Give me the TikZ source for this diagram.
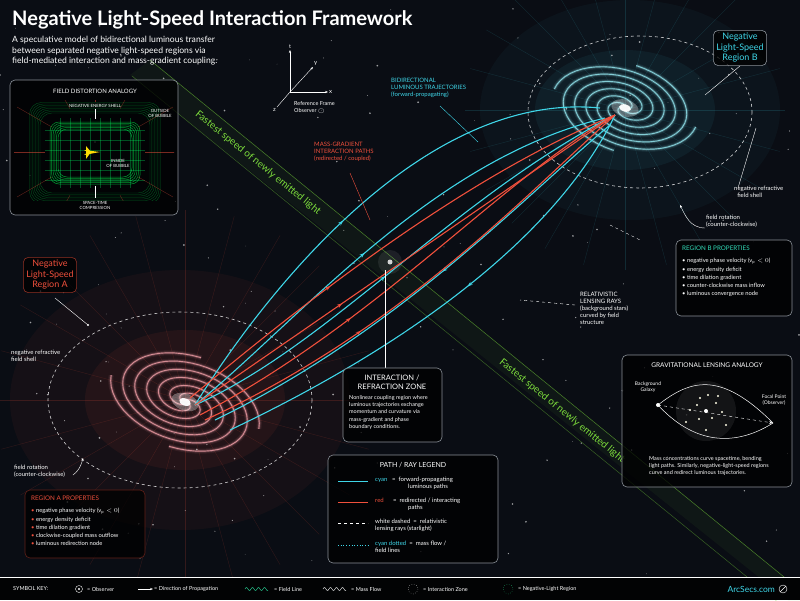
\documentclass[tikz,border=0pt]{standalone}
\usepackage{fontspec}
\setmainfont{Lato}
\usetikzlibrary{arrows.meta,decorations.markings,calc}
\definecolor{bg}{HTML}{0A0D14}
\definecolor{cy}{HTML}{3FD6E8}
\definecolor{rd}{HTML}{F0503C}
\definecolor{gr}{HTML}{7CDC3C}
\definecolor{pk}{HTML}{F2A0A8}
\definecolor{boxb}{HTML}{8A9098}
\tikzset{
  lbl/.style={text=white,font=\fontsize{6}{7}\selectfont,align=left,inner sep=1pt},
  panel/.style={draw=boxb,rounded corners=5pt,fill=black,fill opacity=.75,text opacity=1,text=white,line width=.6pt},
  panelbox/.style={draw=boxb,rounded corners=5pt,fill=black,fill opacity=.75,line width=.6pt},
  body/.style={text=white,font=\fontsize{5.8}{8.3}\selectfont,align=left,anchor=north west,inner sep=0},
  cypath/.style={cy,line width=1.1pt,postaction={decorate},decoration={markings,mark=at position .45 with {\arrow{Stealth[length=5pt]}}}},
  rdpath/.style={rd,line width=1.1pt,postaction={decorate},decoration={markings,mark=at position .35 with {\arrow{Stealth[length=5pt]}}}},
  shell/.style={white,dashed,line width=.6pt,opacity=.8},
  ptr/.style={white,line width=.4pt},
  keyt/.style={text=white!80,font=\fontsize{5.5}{6}\selectfont,anchor=west,inner sep=1pt}
}
\begin{document}
\begin{tikzpicture}[x=1pt,y=-1pt]
\fill[bg] (0,0) rectangle (800,600);
\useasboundingbox (0,0) rectangle (800,600);
% glows
\fill[rd,opacity=.05] (180,400) ellipse (170 and 130);
\fill[rd,opacity=.07] (185,400) ellipse (100 and 70);
\fill[cy,opacity=.04] (630,110) ellipse (150 and 110);
\fill[cy,opacity=.06] (625,110) ellipse (90 and 60);
% stars
\pgfmathsetseed{7}
\foreach \i in {1,...,160}{
  \pgfmathsetmacro\sx{800*rnd}\pgfmathsetmacro\sy{575*rnd}\pgfmathsetmacro\sr{0.3+0.7*rnd}
  \fill[white,opacity=.6] (\sx,\sy) circle (\sr);
}
% radial field lines
\foreach \a in {0,15,...,345}{
  \draw[rd,opacity=.18,line width=.35pt] (185,400) -- ++(\a:{190});
  \draw[cy,opacity=.15,line width=.35pt] (625,110) -- ++(\a:{160});
}
% green band
\fill[gr,opacity=.05] (150,60) -- (800,590) -- (800,610) -- (130,75) -- cycle;
\draw[gr,opacity=.55,line width=.5pt] (150,60) -- (800,590);
\draw[gr,opacity=.4,line width=.5pt] (132,76) -- (790,612);
\node[text=gr,rotate=-39,font=\fontsize{10}{12}\selectfont] (g1) at (258,163) {Fastest speed of newly emitted light};
\node[text=gr,rotate=-39,font=\fontsize{10}{12}\selectfont] (g2) at (562,411) {Fastest speed of newly emitted light};
% spiral galaxies
\begin{scope}[shift={(185,402)},rotate=-20,yscale=.6]
 \foreach \o in {0,90,180,270}{
  \foreach \w/\op in {5/.08,2.5/.25,.9/.8}{
   \draw[pk,line width=\w pt,opacity=\op] plot[domain=0:540,samples=80] ({(3+0.14*\x)*cos(\x+\o)},{(3+0.14*\x)*sin(\x+\o)});
  }}
 \fill[white,opacity=.3] (0,0) circle (14);
 \fill[white,opacity=.95] (0,0) circle (6);
\end{scope}
\begin{scope}[shift={(625,108)},rotate=-15,yscale=.6]
 \foreach \o in {0,90,180,270}{
  \foreach \w/\op in {5/.08,2.5/.25,.9/.8}{
   \draw[cy!55!white,line width=\w pt,opacity=\op] plot[domain=0:540,samples=80] ({(3+0.13*\x)*cos(-\x+\o)},{(3+0.13*\x)*sin(-\x+\o)});
  }}
 \fill[white,opacity=.3] (0,0) circle (14);
 \fill[white,opacity=.95] (0,0) circle (6);
\end{scope}
\draw[shell] (180,400) ellipse (132 and 88);
\draw[shell] (640,112) ellipse (112 and 76);
% interaction zone
\fill[white,opacity=.08] (390,262) circle (12);
\fill[white,opacity=.8] (390,262) circle (2.5);
\coordinate (A) at (195,405);\coordinate (B) at (615,115);
% cyan paths
\draw[cypath] (A) .. controls (260,300) and (420,90) .. (600,108);
\draw[cypath] (A) .. controls (300,320) and (430,160) .. (605,118);
\draw[cypath] (A) .. controls (330,345) and (450,200) .. (B);
\draw[cypath] (610,125) .. controls (520,200) and (400,330) .. (215,420);
\draw[cypath] (B) .. controls (560,230) and (420,340) .. (230,430);
% red paths
\draw[rdpath] (A) -- (B);
\draw[rdpath] (200,415) .. controls (380,320) and (500,180) .. (B);
\draw[rdpath] (205,420) .. controls (400,330) and (520,200) .. (B);
\draw[rdpath] (190,398) .. controls (330,280) and (480,170) .. (B);
% title
\node[anchor=west,text=white,font=\bfseries\fontsize{20}{22}\selectfont,inner sep=0] (title) at (12,20) {Negative Light-Speed Interaction Framework};
\node[anchor=north west,text=white!85,font=\fontsize{8.6}{10.5}\selectfont,align=left,inner sep=0] (sub) at (12,36) {A speculative model of bidirectional luminous transfer\\between separated negative light-speed regions via\\field-mediated interaction and mass-gradient coupling.};
% axes
\coordinate (O) at (290,92);
\draw[white,-{Stealth[length=3pt]},line width=.4pt] (O) -- (290,50) node[above,lbl,font=\fontsize{5.5}{6}\selectfont] (tl) {t};
\draw[white,-{Stealth[length=3pt]},line width=.4pt] (O) -- (328,92) node[right,lbl] (xl) {x};
\draw[white,-{Stealth[length=3pt]},line width=.4pt] (O) -- (313,67) node[above right,lbl] (yl) {y};
\draw[white,line width=.4pt] (O) -- (277,107) node[below left,lbl] (zl) {z};
\node[lbl,anchor=north west,font=\fontsize{5.5}{7}\selectfont] (rf) at (293,100) {Reference Frame\\Observer \textcircled{\tiny$\cdot$}};
% labels
\node[lbl,text=cy,anchor=north west] (bid) at (390,77) {BIDIRECTIONAL\\LUMINOUS TRAJECTORIES\\(forward-propagating)};
\draw[ptr,cy] (440,106) -- (478,142);
\node[lbl,text=rd,anchor=north west] (mg) at (313,141) {MASS-GRADIENT\\INTERACTION PATHS\\(redirected / coupled)};
\draw[ptr,rd] (350,173) -- (370,220);
\node[panel,text=cy,font=\fontsize{9}{10.5}\selectfont,align=center,inner sep=3pt] (rb) at (740,48) {Negative\\Light-Speed\\Region B};
\draw[ptr] (rb.south) -- (705,95);
\node[lbl,anchor=north west] (nrb) at (733,185) {negative refractive\\\ \ field shell};
\draw[ptr] (738,188) -- (756,128);
\node[lbl,anchor=north west] (frb) at (705,214) {field rotation\\(counter-clockwise)};
\draw[ptr,-{Stealth[length=3pt]}] (705,228) .. controls (690,228) and (685,215) .. (680,205);
% Region B properties
\draw[panelbox] (676,240) rectangle (792,316);
\node[body,text=cy!80!green,font=\fontsize{6.3}{8}\selectfont] (pbt) at (682,246) {REGION B PROPERTIES};
\node[body] (pb) at (682,258) {\textbullet\ negative phase velocity (v$_\mathrm{p}<0$)\\\textbullet\ energy density deficit\\\textbullet\ time dilation gradient\\\textbullet\ counter-clockwise mass inflow\\\textbullet\ luminous convergence node};
\node[lbl,anchor=north west] (rl) at (579,291) {RELATIVISTIC\\LENSING RAYS\\{\color{white!80}(background stars)}\\{\color{white!80}curved by field}\\{\color{white!80}structure}};
\draw[ptr,dashed] (575,305) -- (520,300);
\draw[ptr,dashed] (610,225) -- (640,240);
% Gravitational lensing panel
\draw[panelbox] (622,355) rectangle (792,487);
\node[text=white,font=\fontsize{6.5}{8}\selectfont] (glt) at (707,365) {GRAVITATIONAL LENSING ANALOGY};
\fill[white,opacity=.07] (706,411) circle (30);
\foreach \p in {(706,411),(697,405),(716,403),(712,418),(699,419),(690,410),(722,412),(708,395),(706,430),(686,422),(726,425),(700,398),(718,396)}
  \fill[white!90!yellow] \p circle (1.2);
\fill[white] (706,411) circle (2);
\coordinate (bgx) at (658,405);\coordinate (fp) at (773,423);
\fill[white] (bgx) circle (2);
\node[lbl,align=center,font=\fontsize{5}{6}\selectfont] (bgl) at (648,387) {Background\\Galaxy};
\node[lbl,align=center,font=\fontsize{5}{6}\selectfont] (fpl) at (774,400) {Focal Point\\(Observer)};
\draw[white,line width=.5pt] (bgx) .. controls (690,380) and (720,370) .. (fp);
\draw[white,line width=.5pt] (bgx) .. controls (690,440) and (730,450) .. (fp);
\draw[white,dashed,line width=.4pt,-{Stealth[open,length=4pt]}] (bgx) -- (fp);
\node[lbl,anchor=north west,font=\fontsize{5.5}{7}\selectfont] (gld) at (648,455) {Mass concentrations curve spacetime, bending\\light paths. Similarly, negative-light-speed regions\\curve and redirect luminous trajectories.};
% Region A
\node[panel,draw=rd!60!black,text=rd,font=\fontsize{9}{10.5}\selectfont,align=center,inner sep=3pt] (ra) at (50,275) {Negative\\Light-Speed\\Region A};
\draw[ptr] (55,298) -- (88,325);
\fill[white] (88,325) circle (1.2);
\node[lbl,anchor=north west] (nra) at (10,349) {negative refractive\\field shell};
\node[lbl,anchor=north west] (fra) at (13,464) {field rotation\\(counter-clockwise)};
\draw[ptr,-{Stealth[length=3pt]}] (73,475) .. controls (80,470) and (82,462) .. (83,458);
\draw[panelbox,draw=rd!40!black] (25,490) rectangle (145,558);
\node[body,text=rd,font=\fontsize{6.3}{8}\selectfont] (pat) at (31,496) {REGION A PROPERTIES};
\node[body] (pa) at (31,508) {{\color{rd}\textbullet}\ negative phase velocity (v$_\mathrm{p}<0$)\\{\color{rd}\textbullet}\ energy density deficit\\{\color{rd}\textbullet}\ time dilation gradient\\{\color{rd}\textbullet}\ clockwise-coupled mass outflow\\{\color{rd}\textbullet}\ luminous redirection node};
% Interaction panel
\draw[ptr] (385,270) -- (385,368);
\draw[panelbox] (343,368) rectangle (442,442);
\node[text=white,font=\fontsize{7.5}{9}\selectfont,align=center,inner sep=0] (izt) at (392,382) {INTERACTION /\\REFRACTION ZONE};
\node[body,font=\fontsize{5.5}{7.3}\selectfont] (iz) at (349,395) {Nonlinear coupling region where\\luminous trajectories exchange\\momentum and curvature via\\mass-gradient and phase\\boundary conditions.};
% Field distortion panel
\draw[panelbox] (10,80) rectangle (178,215);
\node[text=white,font=\fontsize{6}{7}\selectfont] (fdt) at (95,91) {FIELD DISTORTION ANALOGY};
\begin{scope}
\clip (14,100) rectangle (174,200);
\foreach \k in {0,...,7}{
 \draw[green!70!cyan,opacity=.35,line width=.35pt,rounded corners=12pt] ({40-1.5*\k},{113-1.5*\k}) rectangle ({150+1.5*\k},{193+1.5*\k});
}
\foreach \k in {0,...,5}{
 \draw[green!70!cyan,opacity=.6,line width=.5pt,rounded corners=9pt] ({50+1.6*\k},{122+1.4*\k}) rectangle ({140-1.6*\k},{184-1.4*\k});
}
\foreach \xx in {60,70,...,130} \draw[green!60!cyan,opacity=.3,line width=.3pt] (\xx,118) -- (\xx,188);
\foreach \yy in {130,140,...,180} \draw[green!60!cyan,opacity=.3,line width=.3pt] (45,\yy) -- (145,\yy);
\foreach \a in {0,30,...,330} \draw[rd,opacity=.5,line width=.3pt] ($(95,152)+(\a:50)$) -- ($(95,152)+(\a:90)$);
\end{scope}
\fill[yellow!80!orange] (84,150) -- (100,152) -- (84,155) -- (88,152) -- cycle;
\fill[yellow!80!orange] (86,146) -- (91,152) -- (86,159) -- cycle;
\node[text=white,font=\fontsize{4.3}{5}\selectfont] (nes) at (95,106) {NEGATIVE ENERGY SHELL};
\draw[ptr] (95,109) -- (95,119);
\node[text=white,font=\fontsize{4.3}{5}\selectfont,align=center] (oob) at (160,113) {OUTSIDE\\OF BUBBLE};
\node[text=white,font=\fontsize{4.3}{5}\selectfont,align=center] (iob) at (118,163) {INSIDE\\OF BUBBLE};
\node[text=white,font=\fontsize{4.3}{5}\selectfont,align=center] (stc) at (95,205) {SPACE-TIME\\COMPRESSION};
\draw[ptr] (95,186) -- (95,198);
% legend
\draw[panelbox] (328,455) rectangle (498,563);
\node[text=white,font=\fontsize{7}{8}\selectfont] (lgt) at (413,465) {PATH / RAY LEGEND};
\draw[cy,line width=1pt] (338,481) -- (368,481);
\node[keyt,font=\fontsize{6}{7}\selectfont,align=left,anchor=north west] (l1) at (374,476) {{\color{cy}cyan}\ \ \ =\ \ forward-propagating\\\hspace{33pt}luminous paths};
\draw[rd,line width=1pt] (338,502) -- (368,502);
\node[keyt,font=\fontsize{6}{7}\selectfont,align=left,anchor=north west] (l2) at (374,497) {{\color{rd}red}\ \ \ \ \ \ =\ \ redirected / interacting\\\hspace{33pt}paths};
\draw[white,dashed,line width=.5pt] (338,523) -- (368,523);
\node[keyt,font=\fontsize{6}{7}\selectfont,align=left,anchor=north west] (l3) at (374,518) {white dashed\ \ =\ \ relativistic\\lensing rays (starlight)};
\draw[cy,dotted,line width=.7pt] (338,545) -- (368,545);
\node[keyt,font=\fontsize{6}{7}\selectfont,align=left,anchor=north west] (l4) at (374,540) {{\color{cy}cyan dotted}\ \ =\ \ mass flow /\\field lines};
% footer
\fill[black!80!bg] (0,578) rectangle (800,600);
\draw[white!50,line width=.6pt] (0,577.5) -- (800,577.5);
\node[keyt,text=white!75] (sk) at (12,589) {SYMBOL KEY:};
\draw[white!80,line width=.4pt] (79,589) circle (3.5); \fill[white!80] (79,589) circle (1.2);
\node[keyt] (k1) at (86,589) {= Observer};
\coordinate (ar1) at (138,589);\coordinate (ar2) at (153,589);
\draw[white,line width=.6pt,-{Stealth[length=3pt]}] (ar1) -- (ar2);
\node[keyt] (k2) at (153,589) {= Direction of Propagation};
\draw[cy!70!green,line width=.4pt] plot[domain=245:268,samples=30] (\x,{589-1.5*sin(60*(\x-245))});
\node[keyt] (k3) at (273,589) {= Field Line};
\draw[white!80,line width=.4pt] plot[domain=323:346,samples=30] (\x,{589-1.5*sin(60*(\x-323))});
\node[keyt] (k4) at (350,589) {= Mass Flow};
\draw[white!70,dotted,line width=.4pt] (413,589) circle (5);
\node[keyt] (k5) at (422,589) {= Interaction Zone};
\draw[cy!60!green,dotted,line width=.4pt] (508,589) circle (5);
\node[keyt] (k6) at (517,589) {= Negative-Light Region};
\node[text=cy,font=\fontsize{8.5}{10}\selectfont,anchor=east,inner sep=0] (arc) at (775,589) {ArcSecs.com};
\draw[white!70,line width=.4pt] (783,589) circle (4);
\draw[white!70,line width=.4pt] (780,592) -- (786,586);
\end{tikzpicture}
\end{document}
